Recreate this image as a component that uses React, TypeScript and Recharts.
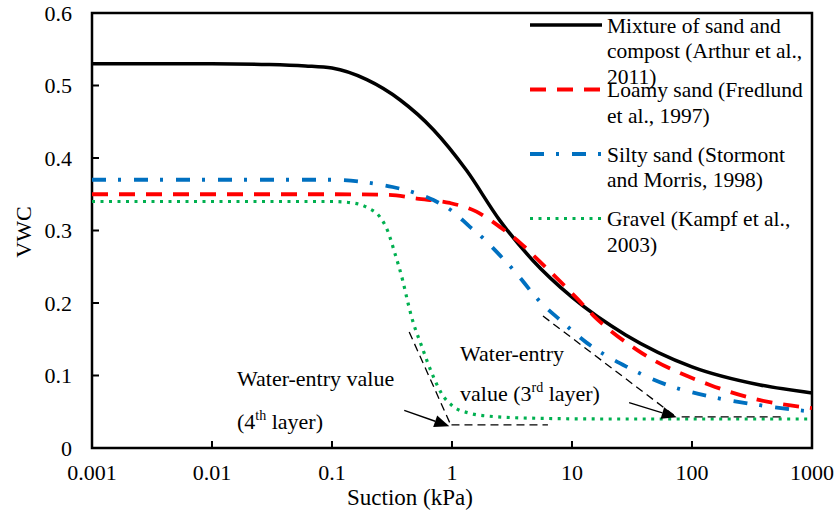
import { Customized, Label, Legend, Line, LineChart, ReferenceArea, ReferenceLine, XAxis, YAxis } from "recharts"

const FONT = '"Liberation Serif", "Times New Roman", serif'

// soil-water characteristic curves: suction (kPa) vs volumetric water content
const mixtureSuction = [0.001, 0.01, 0.03, 0.06, 0.1, 0.195, 0.37, 0.7, 1.32, 2.5, 4.7, 10, 28, 100, 370, 1000]
const mixtureVwc = [0.53, 0.53, 0.529, 0.527, 0.524, 0.508, 0.48, 0.439, 0.383, 0.314, 0.259, 0.208, 0.156, 0.112, 0.087, 0.076]

const loamySuction = [0.001, 0.1, 0.3, 0.51, 0.96, 1.6, 2.5, 3.7, 5.4, 10.9, 15, 35, 141, 369, 1000]
const loamyVwc = [0.35, 0.35, 0.349, 0.344, 0.338, 0.326, 0.305, 0.283, 0.257, 0.207, 0.183, 0.135, 0.087, 0.066, 0.055]

const siltySuction = [0.001, 0.1, 0.2, 0.32, 0.47, 0.7, 1.0, 1.41, 1.83, 2.5, 3.24, 5.4, 7.9, 13.3, 28.6, 62, 141, 369, 1000]
const siltyVwc = [0.37, 0.37, 0.366, 0.36, 0.353, 0.342, 0.327, 0.305, 0.289, 0.266, 0.246, 0.202, 0.177, 0.145, 0.112, 0.087, 0.071, 0.059, 0.05]

const gravelSuction = [0.001, 0.1, 0.15, 0.2, 0.25, 0.29, 0.335, 0.39, 0.43, 0.46, 0.56, 0.68, 0.82, 1.03, 1.4, 2, 5, 20, 1000]
const gravelVwc = [0.34, 0.34, 0.338, 0.331, 0.319, 0.3, 0.268, 0.23, 0.2, 0.181, 0.14, 0.103, 0.075, 0.057, 0.048, 0.044, 0.041, 0.04, 0.04]

const xTicks = [0.001, 0.01, 0.1, 1, 10, 100, 1000]
const yTicks = [0, 0.1, 0.2, 0.3, 0.4, 0.5, 0.6]

const legendLabels = [
  ["Mixture of sand and", "compost (Arthur et al.,", "2011)"],
  ["Loamy sand (Fredlund", "et al., 1997)"],
  ["Silty sand (Stormont", "and Morris, 1998)"],
  ["Gravel (Kampf et al.,", "2003)"],
]

// water-entry construction lines (suction, vwc)
const gravelTangent = [{ x: 0.44, y: 0.16 }, { x: 0.975, y: 0.032 }]
const gravelFloor = [{ x: 0.99, y: 0.032 }, { x: 6.3, y: 0.032 }]
const gravelArrow = [{ x: 0.4, y: 0.052 }, { x: 0.95, y: 0.03 }]
const siltyTangent = [{ x: 5.73, y: 0.182 }, { x: 73.6, y: 0.043 }]
const siltyFloor = [{ x: 82, y: 0.043 }, { x: 559, y: 0.043 }]
const siltyArrow = [{ x: 29.9, y: 0.0625 }, { x: 74.6, y: 0.0423 }]

const zip = (xs: number[], ys: number[]) => xs.map((x, i) => ({ x, y: ys[i] }))

const series = [
  { data: zip(mixtureSuction, mixtureVwc), color: "#000000", dash: undefined, width: 3.5 },
  { data: zip(loamySuction, loamyVwc), color: "#ff0000", dash: "16 11", width: 3.8 },
  { data: zip(siltySuction, siltyVwc), color: "#0070c0", dash: "14 12 3 13", width: 3.8 },
  { data: zip(gravelSuction, gravelVwc), color: "#00b050", dash: "3 5.5", width: 3.2 },
]

const XTick = ({ x, y, payload }: any) => (
  <g>
    <line x1={x} x2={x} y1={y - 16} y2={y - 23} stroke="#000" strokeWidth={2} />
    <text x={x} y={y} dy="0.71em" textAnchor="middle" fontSize={22} fontFamily={FONT} fill="#000">
      {payload.value}
    </text>
  </g>
)

const YTick = ({ x, y, payload }: any) => (
  <g>
    <line x1={x + 20} x2={x + 27} y1={y} y2={y} stroke="#000" strokeWidth={2} />
    <text x={x} y={y} dy="0.355em" textAnchor="end" fontSize={22} fontFamily={FONT} fill="#000">
      {payload.value}
    </text>
  </g>
)

const Arrow = ({ x1, y1, x2, y2 }: any) => {
  const a = Math.atan2(y2 - y1, x2 - x1)
  const len = 15
  const half = 6
  const bx = x2 - len * Math.cos(a)
  const by = y2 - len * Math.sin(a)
  const pts = [
    [x2, y2],
    [bx + half * Math.sin(a), by - half * Math.cos(a)],
    [bx - half * Math.sin(a), by + half * Math.cos(a)],
  ]
  return (
    <g>
      <line x1={x1} y1={y1} x2={bx} y2={by} stroke="#000" strokeWidth={1.4} />
      <polygon points={pts.map((p) => p.join(",")).join(" ")} fill="#000" />
    </g>
  )
}

const LegendBox = () => (
  <svg width={314} height={260}>
    {legendLabels.map((lines, i) => {
      const base = 32.5 + 64.5 * i
      const s = series[i]
      return (
        <g key={i}>
          <line x1={5} x2={77} y1={base - 7.5} y2={base - 7.5} stroke={s.color} strokeWidth={s.width} strokeDasharray={s.dash} />
          {lines.map((t, j) => (
            <text key={j} x={82} y={base + 25.5 * j} fontSize={21.5} fontFamily={FONT} fill="#000">
              {t}
            </text>
          ))}
        </g>
      )
    })}
  </svg>
)

const Notes = () => (
  <g fontFamily={FONT} fontSize={22} fill="#000">
    <text x={237} y={386}>Water-entry value</text>
    <text x={237} y={428.5}>
      (4<tspan fontSize={14} dy={-9}>th</tspan>
      <tspan dy={9}> layer)</tspan>
    </text>
    <text x={460} y={361}>Water-entry</text>
    <text x={460} y={401}>
      value (3<tspan fontSize={14} dy={-9}>rd</tspan>
      <tspan dy={9}> layer)</tspan>
    </text>
  </g>
)

export default function App() {
  return (
    <div style={{ position: "absolute", left: 0, top: 0 }}>
      <LineChart width={839} height={515} margin={{ top: 13, right: 27, bottom: 0, left: 0 }}>
        <XAxis
          dataKey="x"
          type="number"
          scale="log"
          domain={[0.001, 1000]}
          ticks={xTicks}
          allowDataOverflow
          axisLine={false}
          tickLine={false}
          tickSize={0}
          tickMargin={16}
          height={67}
          tick={<XTick />}
        >
          <Label
            content={() => (
              <text x={410} y={505} textAnchor="middle" fontSize={23} fontFamily={FONT} fill="#000">
                Suction (kPa)
              </text>
            )}
          />
        </XAxis>
        <YAxis
          type="number"
          domain={[0, 0.6]}
          ticks={yTicks}
          axisLine={false}
          tickLine={false}
          tickSize={0}
          tickMargin={20}
          width={92}
          tick={<YTick />}
        >
          <Label
            content={() => (
              <text x={30.5} y={232} transform="rotate(-90 30.5 232)" textAnchor="middle" fontSize={22} fontFamily={FONT} fill="#000">
                VWC
              </text>
            )}
          />
        </YAxis>
        <ReferenceArea x1={0.001} x2={1000} y1={0} y2={0.6} fill="none" stroke="#000" strokeWidth={2.5} ifOverflow="visible" />
        {series.map((s, i) => (
          <Line
            key={i}
            data={s.data}
            dataKey="y"
            type="monotone"
            stroke={s.color}
            strokeWidth={s.width}
            strokeDasharray={s.dash}
            dot={false}
            activeDot={false}
            isAnimationActive={false}
          />
        ))}
        <ReferenceLine segment={gravelTangent} stroke="#000" strokeWidth={1.3} strokeDasharray="8 5" ifOverflow="visible" />
        <ReferenceLine segment={gravelFloor} stroke="#000" strokeWidth={1.3} strokeDasharray="8 5" ifOverflow="visible" />
        <ReferenceLine segment={gravelArrow} shape={<Arrow />} ifOverflow="visible" />
        <ReferenceLine segment={siltyTangent} stroke="#000" strokeWidth={1.3} strokeDasharray="8 5" ifOverflow="visible" />
        <ReferenceLine segment={siltyFloor} stroke="#000" strokeWidth={1.3} strokeDasharray="8 5" ifOverflow="visible" />
        <ReferenceLine segment={siltyArrow} shape={<Arrow />} ifOverflow="visible" />
        <Customized component={<Notes />} />
        <Legend
          layout="vertical"
          align="center"
          verticalAlign="middle"
          content={<LegendBox />}
          wrapperStyle={{ position: "absolute", left: 525, top: 0, width: 314, height: 260 }}
        />
      </LineChart>
    </div>
  )
}
